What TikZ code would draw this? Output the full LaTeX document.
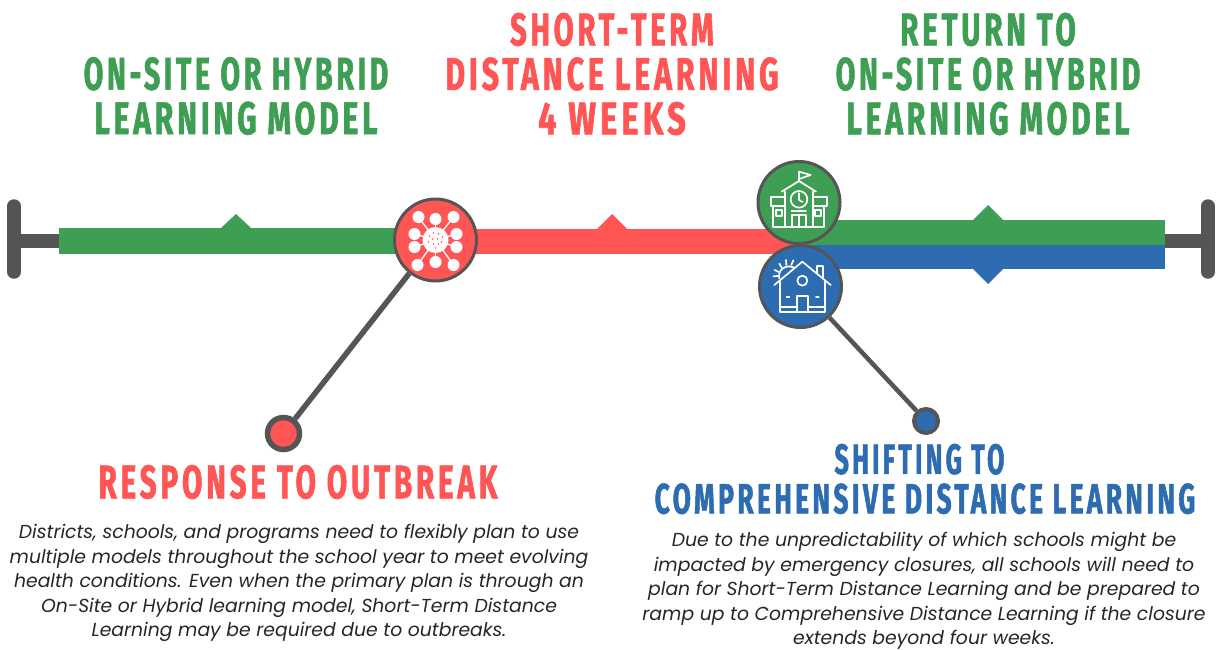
\documentclass[tikz,border=0pt]{standalone}
\usepackage{fontspec}
\usepackage{xcolor}
\setmainfont{Poppins}
\newfontfamily\headfont[FakeStretch=0.62,LetterSpace=8,FakeBold=1.2]{Fira Sans}
\definecolor{modelgreen}{HTML}{3E9E54}
\definecolor{outbreakred}{HTML}{FF5555}
\definecolor{distanceblue}{HTML}{2D6CB0}
\definecolor{railgray}{HTML}{555555}
\newcommand{\stretchline}[2]{\scalebox{#1}[1]{#2}}
\tikzset{
	headline/.style={font=\headfont\bfseries\fontsize{46}{44.5}\selectfont, align=center, inner sep=0pt},
	bodytext/.style={font=\itshape\fontsize{18.8}{24.4}\selectfont, text=black!85, align=center, inner sep=0pt},
	iconcircle/.style={circle, draw=railgray, line width=3pt, minimum size=82pt, inner sep=0pt},
	icondraw/.style={draw=white, line width=1.7pt, line join=round, line cap=round},
	rail/.style={draw=railgray, line width=13.5pt}
}
\begin{document}
\begin{tikzpicture}[x=1pt, y=-1pt]
\useasboundingbox (0,0) rectangle (1225,649);
\coordinate (leftend) at (14,241);
\coordinate (rightend) at (1208,241);
\draw[rail, line cap=round] (14,206) -- (14,272);
\draw[rail, line cap=round] (1208,206) -- (1208,272);
\draw[rail] (leftend) -- (59,241);
\draw[rail] (1165,241) -- (rightend);
\fill[modelgreen] (59,228) rectangle (410,254);
\fill[outbreakred] (460,229) rectangle (800,254);
\fill[modelgreen] (800,220) rectangle (1165,245);
\fill[distanceblue] (800,245) rectangle (1165,269);
\fill[modelgreen] (221,228) -- (236,214) -- (251,228) -- cycle;
\fill[outbreakred] (597,229) -- (612,214) -- (627,229) -- cycle;
\fill[modelgreen] (973,220) -- (988,205) -- (1003,220) -- cycle;
\fill[distanceblue] (973,269) -- (988,284) -- (1003,269) -- cycle;

\node[iconcircle, fill=outbreakred] (virus) at (435.5,240) {};
\node[iconcircle, fill=modelgreen] (school) at (799,202.5) {};
\node[iconcircle, fill=distanceblue] (house) at (800.5,286.5) {};
\node[circle, draw=railgray, fill=outbreakred, line width=5.5pt, minimum size=32pt, inner sep=0pt] (reddot) at (283.5,433.5) {};
\node[circle, draw=railgray, fill=distanceblue, line width=4pt, minimum size=24pt, inner sep=0pt] (bluedot) at (926,421) {};
\draw[railgray, line width=5.5pt] (virus) -- (reddot);
\draw[railgray, line width=4.5pt] (house) -- (bluedot);

\foreach \x/\y in {-17/-23, 0/-21, 18/-23, -21/-6, 21/-6, -21/7, 21/7, -18/25, 0/22, 18/25} {
	\draw[white, line width=1.3pt] (435.5,240) -- ++(\x,\y);
	\fill[white] (435.5+\x,240+\y) circle [radius=6];
}
\fill[white] (435.5,240) circle [radius=13];
\foreach \x/\y in {-6/-4, -2/-7, 3/-6, 7/-3, -3/-1, 2/-1, 6/2, -7/2, -2/4, 3/4, 0/8} {
	\fill[outbreakred] (435.5+\x,240+\y) circle [radius=0.9];
}

\begin{scope}[shift={(740,150)}, x=0.3333pt, y=-0.3333pt]
	\draw[icondraw] (177,95) -- (177,65) -- (212,75) -- (177,87);
	\draw[icondraw] (125,125) -- (177,93) -- (228,125);
	\draw[icondraw] (135,125) -- (135,232) (218,125) -- (218,232);
	\draw[icondraw] (177,148) circle [radius=25];
	\draw[icondraw] (177,130) -- (177,150) -- (188,156);
	\draw[icondraw] (135,140) -- (92,140) -- (92,167) -- (135,167);
	\draw[icondraw] (218,140) -- (260,140) -- (260,167) -- (218,167);
	\draw[icondraw] (100,167) -- (100,232) -- (252,232) -- (252,167);
	\draw[icondraw] (108,180) rectangle (125,198);
	\draw[icondraw] (225,180) rectangle (243,198);
	\draw[icondraw] (155,182) -- (198,182);
	\draw[icondraw] (155,232) -- (155,194) -- (198,194) -- (198,232);
	\draw[icondraw] (177,194) -- (177,232);
\end{scope}

\begin{scope}[shift={(740,150)}, x=0.3333pt, y=-0.3333pt]
	\draw[icondraw] (103,405) -- (187,335) -- (272,405);
	\draw[icondraw] (230,368) -- (230,348) -- (248,348) -- (248,382);
	\draw[icondraw] (120,395) -- (120,485) -- (255,485) -- (255,395);
	\draw[icondraw] (187,392) circle [radius=15];
	\draw[icondraw] (170,485) -- (170,437) -- (205,437) -- (205,485);
	\draw[icondraw] (140,440) -- (148,440) (228,440) -- (236,440);
	\draw[icondraw] (120,470) -- (170,470) (205,470) -- (255,470);
	\draw[icondraw] (118,385) .. controls (112,362) and (135,342) .. (160,352);
	\draw[icondraw] (100,379) -- (114,378) (104,360) -- (116,366) (118,341) -- (125,353) (138,330) -- (139,345) (160,331) -- (154,345);
\end{scope}

\node[headline, text=modelgreen] (leftmodel) at (236,96) {ON-SITE OR HYBRID\\\stretchline{1.05}{LEARNING MODEL}};
\node[headline, text=outbreakred] (shortterm) at (612,74) {\stretchline{1.02}{SHORT-TERM}\\\stretchline{1.06}{DISTANCE LEARNING}\\\stretchline{1.14}{4 WEEKS}};
\node[headline, text=modelgreen] (rightmodel) at (988,74) {\stretchline{1.035}{RETURN TO}\\ON-SITE OR HYBRID\\\stretchline{1.05}{LEARNING MODEL}};
\node[headline, text=outbreakred, font=\headfont\bfseries\fontsize{47}{44.5}\selectfont] (response) at (298,482) {\stretchline{1.015}{RESPONSE TO OUTBREAK}};
\node[headline, text=distanceblue, font=\headfont\bfseries\fontsize{42.5}{39.5}\selectfont] (shifting) at (925,479) {\hspace*{-11pt}\stretchline{0.955}{SHIFTING TO}\\COMPREHENSIVE DISTANCE LEARNING};
\node[bodytext] (responsetext) at (299,583) {Districts, schools, and programs need to flexibly plan to use\\multiple models throughout the school year to meet evolving\\health conditions. Even when the primary plan is through an\\On-Site or Hybrid learning model, Short-Term Distance\\Learning may be required due to outbreaks.};
\node[bodytext] (shiftingtext) at (924,591) {Due to the unpredictability of which schools might be\\impacted by emergency closures, all schools will need to\\plan for Short-Term Distance Learning and be prepared to\\ramp up to Comprehensive Distance Learning if the closure\\extends beyond four weeks.};
\end{tikzpicture}
\end{document}
